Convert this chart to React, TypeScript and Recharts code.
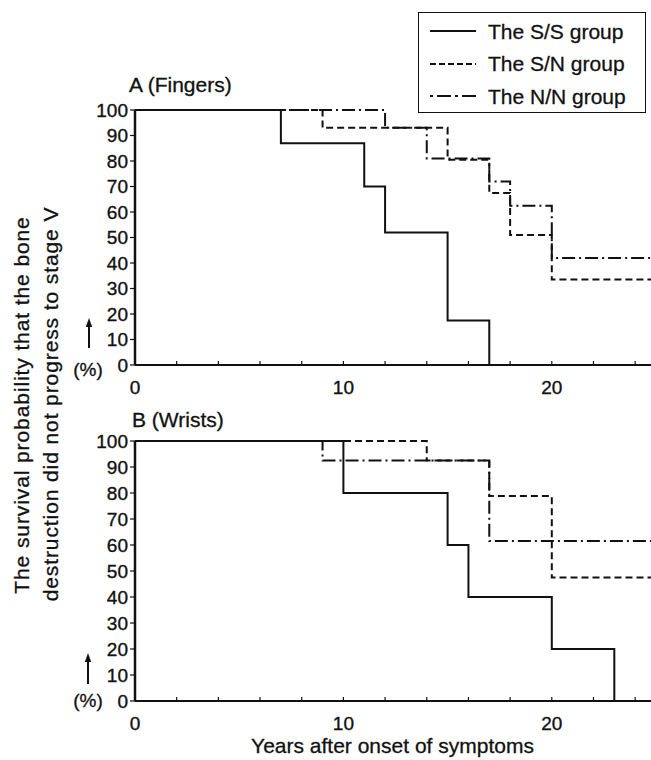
import React from 'react';
import { LineChart, Line, XAxis, YAxis, Legend } from 'recharts';

const FONT = '"Liberation Sans", Arial, Helvetica, sans-serif';
const INK = '#111';

// Axis ticks
const xTicks = [0, 2, 4, 6, 8, 10, 12, 14, 16, 18, 20, 22, 24];
const xLabelTicks = [0, 10, 20];
const yTicks = [0, 10, 20, 30, 40, 50, 60, 70, 80, 90, 100];

// Series names
const seriesNames = ['The S/S group', 'The S/N group', 'The N/N group'];

// Panel A (Fingers)
const fingersSSYears = [0, 7, 11, 12, 15, 17];
const fingersSSValues = [100, 87, 70, 52, 17.5, 0];
const fingersSNYears = [0, 9, 15, 17, 18, 20, 25];
const fingersSNValues = [100, 93, 80.5, 67.5, 51, 33.5, 33.5];
const fingersNNYears = [0, 12, 14, 17, 18, 20, 25];
const fingersNNValues = [100, 93, 81, 72, 62.5, 42, 42];

// Panel B (Wrists)
const wristsSSYears = [0, 10, 15, 16, 20, 23];
const wristsSSValues = [100, 80, 60, 40, 20, 0];
const wristsSNYears = [0, 14, 17, 20, 25];
const wristsSNValues = [100, 92.5, 78.8, 47.5, 47.5];
const wristsNNYears = [0, 9, 17, 25];
const wristsNNValues = [100, 92.5, 61.5, 61.5];

const toPoints = (xs: number[], ys: number[]) => xs.map((x, i) => ({ x, y: ys[i] }));

const dashes = [undefined, '7 4', '13 4 2 4'];
const legendDashes = [undefined, '6 3', '3 4 14 4'];

type PanelProps = {
  top: number;
  height: number;
  marginTop: number;
  xAxisHeight: number;
  series: { x: number; y: number }[][];
  legend?: boolean;
  xLabel?: string;
};

const tickStyle = { fill: INK, fontSize: 19, fontFamily: FONT, stroke: INK, strokeWidth: 0.35 };

const renderLegend = () => (
  <div
    style={{
      width: 228,
      height: 101,
      boxSizing: 'border-box',
      border: `1.5px solid ${INK}`,
      background: '#fff',
      paddingTop: 2,
      paddingLeft: 11,
      fontFamily: FONT,
      fontSize: 21,
      color: INK,
    }}
  >
    {seriesNames.map((name, i) => (
      <div key={name} style={{ height: 32.5, display: 'flex', alignItems: 'center' }}>
        <svg width={46} height={6} style={{ display: 'block' }}>
          <line x1={0} y1={3} x2={46} y2={3} stroke={INK} strokeWidth={2} strokeDasharray={legendDashes[i]} />
        </svg>
        <span style={{ marginLeft: 12, lineHeight: 1, whiteSpace: 'nowrap', WebkitTextStroke: '0.3px #111' }}>{name}</span>
      </div>
    ))}
  </div>
);

function Panel({ top, height, marginTop, xAxisHeight, series, legend, xLabel }: PanelProps) {
  return (
    <div style={{ position: 'absolute', left: 0, top }}>
      <LineChart width={660} height={height} margin={{ top: marginTop, right: 4, left: 0, bottom: 0 }}>
        <XAxis
          type="number"
          dataKey="x"
          domain={[0, 25]}
          ticks={xTicks}
          interval={0}
          tickFormatter={(v: number) => (xLabelTicks.includes(v) ? String(v) : '')}
          height={xAxisHeight}
          tickSize={-4}
          tickMargin={20}
          axisLine={{ stroke: INK, strokeWidth: 2 }}
          tickLine={{ stroke: INK, strokeWidth: 1.2 }}
          tick={tickStyle}
          label={
            xLabel
              ? {
                  value: xLabel,
                  position: 'insideBottom',
                  offset: 7,
                  fill: INK,
                  fontSize: 21,
                  fontFamily: FONT,
                  dx: -3,
                  stroke: INK,
                  strokeWidth: 0.3,
                }
              : undefined
          }
        />
        <YAxis
          type="number"
          domain={[0, 100]}
          ticks={yTicks}
          interval={0}
          width={135}
          tickSize={5}
          tickMargin={2}
          axisLine={{ stroke: INK, strokeWidth: 2.5 }}
          tickLine={{ stroke: INK, strokeWidth: 1.2 }}
          tick={tickStyle}
        />
        {legend ? (
          <Legend
            layout="vertical"
            align="center"
            verticalAlign="middle"
            content={renderLegend}
            wrapperStyle={{ left: 418, top: 12, width: 228, height: 101 }}
          />
        ) : null}
        {[2, 1, 0].map((i) => (
          <Line
            key={i}
            name={seriesNames[i]}
            data={series[i]}
            dataKey="y"
            type="stepAfter"
            stroke={INK}
            strokeWidth={2}
            strokeDasharray={dashes[i]}
            dot={false}
            activeDot={false}
            isAnimationActive={false}
          />
        ))}
      </LineChart>
    </div>
  );
}

function Arrow({ x, tip, bottom }: { x: number; tip: number; bottom: number }) {
  return (
    <g>
      <line x1={x} y1={bottom} x2={x} y2={tip + 6} stroke={INK} strokeWidth={2} />
      <polygon points={`${x - 3.2},${tip + 9} ${x + 3.2},${tip + 9} ${x},${tip}`} fill={INK} />
    </g>
  );
}

export default function App() {
  const fingers = [
    toPoints(fingersSSYears, fingersSSValues),
    toPoints(fingersSNYears, fingersSNValues),
    toPoints(fingersNNYears, fingersNNValues),
  ];
  const wrists = [
    toPoints(wristsSSYears, wristsSSValues),
    toPoints(wristsSNYears, wristsSNValues),
    toPoints(wristsNNYears, wristsNNValues),
  ];
  return (
    <div
      style={{
        position: 'absolute',
        left: 0,
        top: 0,
        width: 651,
        height: 760,
        overflow: 'hidden',
        background: '#fff',
        fontFamily: FONT,
      }}
    >
      <svg width={651} height={760} style={{ position: 'absolute', left: 0, top: 0 }}>
        <g fill={INK} fontFamily={FONT} stroke={INK} strokeWidth={0.3}>
          <text x={129} y={92} fontSize={21}>A (Fingers)</text>
          <text x={132} y={427} fontSize={21}>B (Wrists)</text>
          <text
            transform="translate(28.5,405) rotate(-90)"
            textAnchor="middle"
            fontSize={21}
            letterSpacing={0.9}
          >
            The survival probability that the bone
          </text>
          <text
            transform="translate(58,404) rotate(-90)"
            textAnchor="middle"
            fontSize={21}
            letterSpacing={0.9}
          >
            destruction did not progress to stage V
          </text>
          <text x={88} y={376} fontSize={19} textAnchor="middle">(%)</text>
          <text x={88} y={707} fontSize={19} textAnchor="middle">(%)</text>
        </g>
        <Arrow x={89} tip={318} bottom={348} />
        <Arrow x={88} tip={653} bottom={684} />
      </svg>
      <Panel top={0} height={400} marginTop={110} xAxisHeight={35} series={fingers} legend />
      <Panel
        top={380}
        height={380}
        marginTop={61}
        xAxisHeight={59}
        series={wrists}
        xLabel="Years after onset of symptoms"
      />
    </div>
  );
}
